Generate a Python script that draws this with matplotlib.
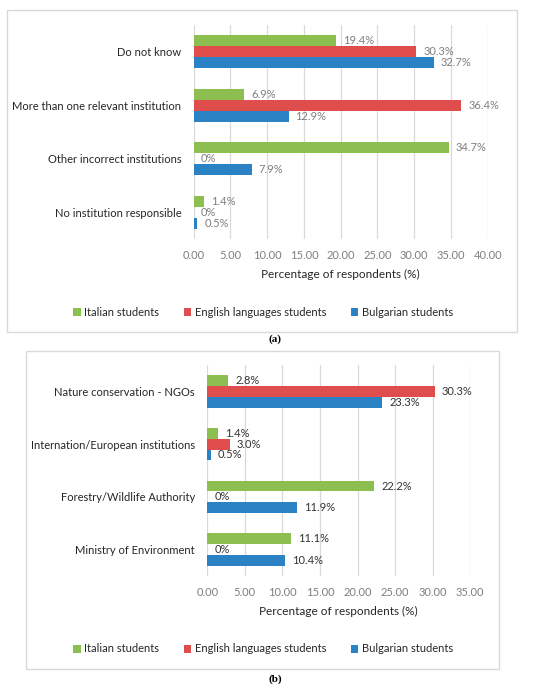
import matplotlib
matplotlib.use("Agg")
import matplotlib.pyplot as plt
from matplotlib.patches import Rectangle
import numpy as np

plt.rcParams['font.family'] = ['Lato', 'DejaVu Sans']

series = ["Italian students", "English languages students", "Bulgarian students"]
colors = ["#8cbf4f", "#e04d4d", "#2a82c4"]

# panel (a), categories listed bottom to top
cats_a = ["No institution responsible", "Other incorrect institutions",
          "More than one relevant institution", "Do not know"]
italian_a = [1.4, 34.7, 6.9, 19.4]
english_a = [0.0, 0.0, 36.4, 30.3]
bulgarian_a = [0.5, 7.9, 12.9, 32.7]
labels_a = [["1.4%", "34.7%", "6.9%", "19.4%"],
            ["0%", "0%", "36.4%", "30.3%"],
            ["0.5%", "7.9%", "12.9%", "32.7%"]]

# panel (b)
cats_b = ["Ministry of Environment", "Forestry/Wildlife Authority",
          "Internation/European institutions", "Nature conservation - NGOs"]
italian_b = [11.1, 22.2, 1.4, 2.8]
english_b = [0.0, 0.0, 3.0, 30.3]
bulgarian_b = [10.4, 11.9, 0.5, 23.3]
labels_b = [["11.1%", "22.2%", "1.4%", "2.8%"],
            ["0%", "0%", "3.0%", "30.3%"],
            ["10.4%", "11.9%", "0.5%", "23.3%"]]

W, H = 550, 690
fig = plt.figure(figsize=(5.5, 6.9), dpi=100)


def px(x0, y0, x1, y1):
    return [x0 / W, 1 - y1 / H, (x1 - x0) / W, (y1 - y0) / H]


def panel(rect, cats, vals, labels, xmax, lblcolor):
    ax = fig.add_axes(rect)
    y = np.arange(len(cats))
    h = 0.205
    offs = [h, 0, -h]
    for i, v in enumerate(vals):
        ax.barh(y + offs[i], v, height=h, color=colors[i], label=series[i])
        for j, val in enumerate(v):
            ax.annotate(labels[i][j], (val, y[j] + offs[i]), xytext=(7, 0),
                        textcoords="offset points" if False else "offset pixels",
                        va="center", ha="left", fontsize=8, color=lblcolor)
    ax.set_ylim(-0.5, len(cats) - 0.5)
    ax.set_xlim(0, xmax)
    ax.set_xticks(np.arange(0, xmax + 0.1, 5))
    ax.set_xticklabels(["%.2f" % t for t in np.arange(0, xmax + 0.1, 5)])
    ax.set_yticks(y)
    ax.set_yticklabels(cats, fontsize=8, color="#262626")
    ax.tick_params(axis="x", colors="#7f7f7f", labelsize=8, length=0, pad=8)
    ax.tick_params(axis="y", length=0, pad=9)
    ax.grid(axis="x", color="#d9d9d9", linewidth=0.9)
    ax.set_axisbelow(True)
    for s in ax.spines.values():
        s.set_visible(False)
    ax.set_xlabel("Percentage of respondents (%)", fontsize=8.5, color="#262626", labelpad=6)
    return ax


ax_a = panel(px(193.7, 25, 487.7, 239), cats_a,
             [italian_a, english_a, bulgarian_a], labels_a, 40, "#7f7f7f")
ax_b = panel(px(207.3, 365, 470.3, 576), cats_b,
             [italian_b, english_b, bulgarian_b], labels_b, 35, "#333333")

# frames
fig.patches.append(Rectangle((7 / W, 1 - 332 / H), 510 / W, 322 / H, transform=fig.transFigure,
                             fill=False, edgecolor="#d9d9d9", linewidth=1))
fig.patches.append(Rectangle((26 / W, 1 - 669 / H), 473 / W, 318 / H, transform=fig.transFigure,
                             fill=False, edgecolor="#d9d9d9", linewidth=1))

# legends
for ax, ly in [(ax_a, 312), (ax_b, 649)]:
    hnd, lab = ax.get_legend_handles_labels()
    fig.legend(hnd, lab, loc="center", bbox_to_anchor=(263 / W, 1 - ly / H), ncol=3,
               frameon=False, fontsize=8, handlelength=0.7, handleheight=0.7,
               handletextpad=0.3, columnspacing=2.2, labelcolor="#262626")

fig.text(275 / W, 1 - 339 / H, "(a)", ha="center", va="center", fontsize=8,
         fontweight="bold", family="Liberation Serif")
fig.text(275 / W, 1 - 679 / H, "(b)", ha="center", va="center", fontsize=8,
         fontweight="bold", family="Liberation Serif")

fig.savefig("out.png", dpi=100)
